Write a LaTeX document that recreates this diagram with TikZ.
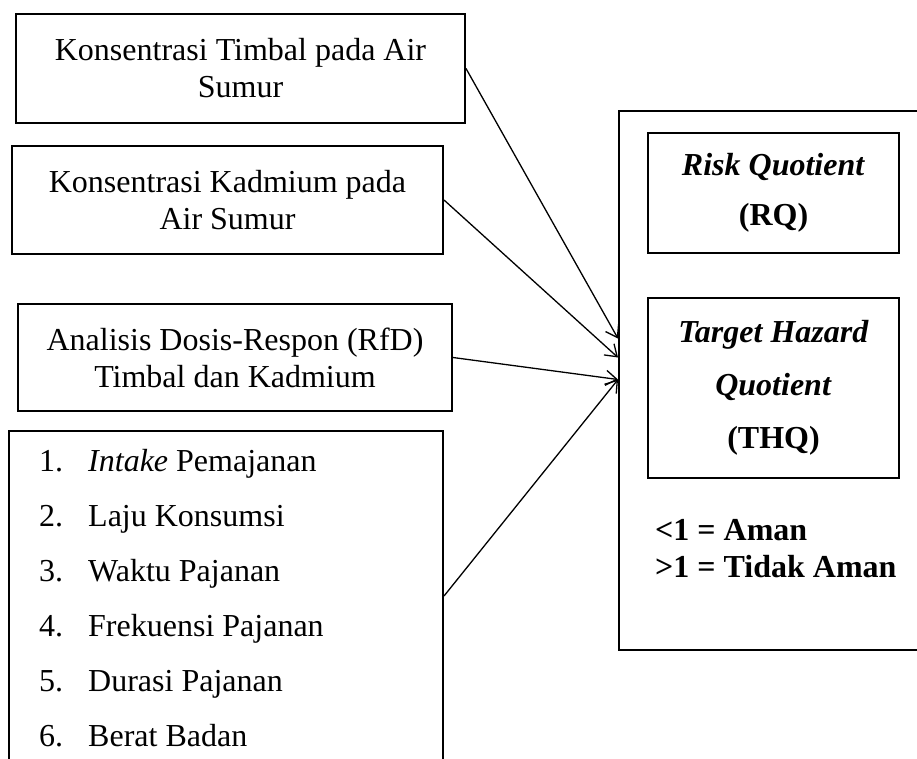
\documentclass[tikz,border=0pt]{standalone}
\usepackage{fontspec}
\setmainfont{Liberation Serif}
\usetikzlibrary{calc,arrows.meta}

\tikzset{
  kotak/.style={draw, line width=2pt, align=center, inner sep=0pt},
  kotakhasil/.style={draw, line width=1.2pt, align=center, inner sep=0pt},
  panah/.style={line width=1.3pt, -{Straight Barb[length=11pt,width=15pt]}},
}

\begin{document}
\begin{tikzpicture}[x=1pt, y=-1pt, font=\fontsize{32}{37}\selectfont]

% ukuran gambar
\useasboundingbox (0,0) rectangle (917,758);
\clip (0,0) rectangle (917,758);

% kotak masukan
\node[kotak, minimum width=449pt, minimum height=109pt] (timbal) at (240.5,68.5) {Konsentrasi Timbal pada Air\\Sumur};
\node[kotak, minimum width=431pt, minimum height=108pt] (kadmium) at (227.5,200) {Konsentrasi Kadmium pada\\Air Sumur};
\node[kotak, minimum width=434pt, minimum height=107pt] (rfd) at (235,357.5) {Analisis Dosis-Respon (RfD)\\Timbal dan Kadmium};
\node[kotak, minimum width=434pt, minimum height=330pt] (pajanan) at (226,596) {};

% daftar faktor pajanan
\foreach \i/\isi in {1/{\textit{Intake} Pemajanan}, 2/{Laju Konsumsi}, 3/{Waktu Pajanan},
                     4/{Frekuensi Pajanan}, 5/{Durasi Pajanan}, 6/{Berat Badan}} {
  \node[anchor=base west, inner sep=0pt] (no\i) at (39,416+55*\i) {\i.};
  \node[anchor=base west, inner sep=0pt] (isi\i) at (88,416+55*\i) {\isi};
}

% kotak hasil
\node[draw, line width=2pt, minimum width=330pt, minimum height=539pt, inner sep=0pt] (hasil) at (784,380.5) {};
\node[kotakhasil, minimum width=251pt, minimum height=120pt] (rq) at (773.5,193)
  {\textbf{\textit{Risk Quotient}}\\[13pt]\textbf{(RQ)}};
\node[kotakhasil, minimum width=251pt, minimum height=180pt] (thq) at (773.5,388)
  {\textbf{\textit{Target Hazard}}\\[16pt]\textbf{\textit{Quotient}}\\[16pt]\textbf{(THQ)}};
\node[anchor=west, align=left, inner sep=0pt] (kriteria) at (655,549)
  {\textbf{<1 = Aman}\\\textbf{>1 = Tidak Aman}};

% panah
\draw[panah] (timbal.east) -- ($(hasil.west)+(0,-42)$);
\draw[panah] (kadmium.east) -- ($(hasil.west)+(0,-23)$);
\draw[panah] (rfd.east) -- ($(hasil.west)+(0,-1)$);
\draw[panah] (pajanan.east) -- ($(hasil.west)+(0,-1)$);

\end{tikzpicture}
\end{document}
